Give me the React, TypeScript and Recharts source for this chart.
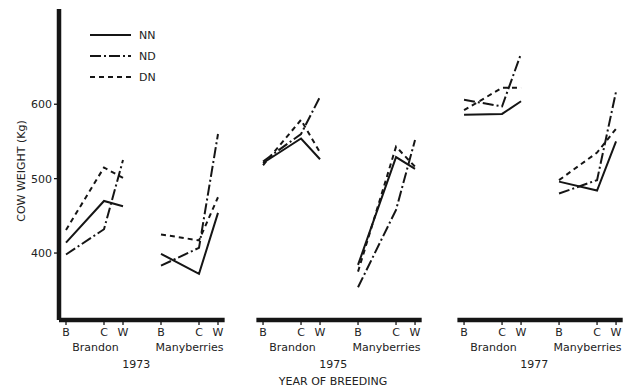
import React from "react";
import { LineChart, Line, XAxis, YAxis, ReferenceLine, Legend } from "recharts";

const YEARS = ["1973", "1975", "1977"];
const SITES = ["Brandon", "Manyberries"];
const STATIONS = ["B", "C", "W"];

// cow weight (kg): one row per year/site group, values in B, C, W order
const NN = [
    [414, 470, 463], [399, 372, 454],
    [521, 554, 526], [384, 529, 513],
    [586, 587, 604], [496, 484, 550],
];
const ND = [
    [398, 432, 525], [383, 407, 560],
    [523, 560, 610], [354, 458, 552],
    [606, 597, 668], [480, 498, 617],
];
const DN = [
    [431, 515, 501], [425, 417, 475],
    [518, 579, 535], [375, 543, 516],
    [592, 622, 622], [498, 535, 567],
];

const SERIES = [
    { key: "NN", values: NN, dash: undefined },
    { key: "ND", values: ND, dash: "11 3 2 3" },
    { key: "DN", values: DN, dash: "5 4" },
];

const INK = "#151515";
const FONT = '"DejaVu Sans", sans-serif';

// x positions, in units of roughly 19px
const U = 19;
const STATION_X = [0, 2, 3];
const SITE_X = [0, 5];
const YEAR_X = [0, 10.37, 20.95];
const X_DOMAIN = [(59 - 66) / U, (625 - 66) / U];
const Y_DOMAIN = [310, 728];

const rows: any[] = [];
YEARS.forEach((_, p) => {
    SITES.forEach((_, s) => {
        const g = p * 2 + s;
        STATIONS.forEach((_, i) => {
            const row: any = { x: YEAR_X[p] + SITE_X[s] + STATION_X[i] };
            SERIES.forEach((se) => (row[se.key] = se.values[g][i]));
            rows.push(row);
        });
        // break the line between groups
        const gap: any = { x: YEAR_X[p] + SITE_X[s] + 3.5 };
        SERIES.forEach((se) => (gap[se.key] = null));
        rows.push(gap);
    });
});

const stationTicks = rows.filter((r) => r.NN !== null).map((r) => r.x);
const siteTicks = YEAR_X.flatMap((p) => [p + 1.55, p + 6.5]);
const yearTicks = YEAR_X.map((p) => p + 3.7);

const axisSegments = YEAR_X.map((p, i) => [
    { x: i === 0 ? X_DOMAIN[0] : p - 0.35, y: Y_DOMAIN[0] },
    { x: p + 8.35, y: Y_DOMAIN[0] },
]);

const tickStyle = { fontSize: 11, fill: "#222", fontFamily: FONT };

function renderLegend() {
    return (
        <svg width={80} height={62}>
            {SERIES.map((se, i) => (
                <g key={se.key}>
                    <line
                        x1={2}
                        x2={43}
                        y1={9 + i * 21}
                        y2={9 + i * 21}
                        stroke={INK}
                        strokeWidth={2}
                        strokeDasharray={se.dash}
                    />
                    <text
                        x={51}
                        y={9 + i * 21}
                        dominantBaseline="central"
                        fontSize={11}
                        fill="#222"
                        fontFamily={FONT}
                    >
                        {se.key}
                    </text>
                </g>
            ))}
        </svg>
    );
}

export default function App() {
    return (
        <div
            style={{
                position: "absolute",
                left: 0,
                top: 0,
                width: 631,
                height: 391,
                background: "#fff",
                fontFamily: FONT,
            }}
        >
            <LineChart
                width={631}
                height={391}
                data={rows}
                margin={{ top: 9, right: 6, left: 0, bottom: 0 }}
            >
                <XAxis
                    xAxisId="a"
                    dataKey="x"
                    type="number"
                    domain={X_DOMAIN}
                    allowDataOverflow
                    ticks={stationTicks}
                    interval={0}
                    tickFormatter={(_v: number, i: number) => STATIONS[i % 3]}
                    axisLine={false}
                    tickLine={{ stroke: INK, strokeWidth: 1.3 }}
                    tickSize={5}
                    tickMargin={3}
                    height={14}
                    tick={tickStyle}
                />
                <XAxis
                    xAxisId="b"
                    dataKey="x"
                    type="number"
                    domain={X_DOMAIN}
                    allowDataOverflow
                    ticks={siteTicks}
                    interval={0}
                    tickFormatter={(_v: number, i: number) => SITES[i % 2]}
                    axisLine={false}
                    tickLine={false}
                    tickSize={0}
                    tickMargin={9}
                    height={17}
                    tick={tickStyle}
                />
                <XAxis
                    xAxisId="c"
                    dataKey="x"
                    type="number"
                    domain={X_DOMAIN}
                    allowDataOverflow
                    ticks={yearTicks}
                    interval={0}
                    tickFormatter={(_v: number, i: number) => YEARS[i]}
                    axisLine={false}
                    tickLine={false}
                    tickSize={0}
                    tickMargin={9}
                    height={40}
                    tick={tickStyle}
                    label={{
                        value: "YEAR OF BREEDING",
                        position: "insideBottom",
                        offset: 6,
                        dx: -9,
                        fontSize: 11,
                        fill: "#222",
                    }}
                />
                <YAxis
                    type="number"
                    domain={Y_DOMAIN}
                    allowDataOverflow
                    ticks={[400, 500, 600]}
                    width={59}
                    axisLine={{ stroke: INK, strokeWidth: 4.5 }}
                    tickLine={{ stroke: INK, strokeWidth: 1.3 }}
                    tickSize={5}
                    tickMargin={2}
                    tick={tickStyle}
                    label={{
                        content: () => (
                            <text
                                x={21}
                                y={171}
                                transform="rotate(-90, 21, 171)"
                                textAnchor="middle"
                                dominantBaseline="central"
                                fontSize={11}
                                fill="#222"
                                fontFamily={FONT}
                            >
                                COW WEIGHT (Kg)
                            </text>
                        ),
                    }}
                />
                {axisSegments.map((seg, i) => (
                    <ReferenceLine
                        key={`axis-${i}`}
                        xAxisId="a"
                        segment={seg}
                        stroke={INK}
                        strokeWidth={4.5}
                        ifOverflow="visible"
                    />
                ))}
                {SERIES.map((se) => (
                    <Line
                        key={se.key}
                        xAxisId="a"
                        dataKey={se.key}
                        type="linear"
                        stroke={INK}
                        strokeWidth={2}
                        strokeDasharray={se.dash}
                        dot={false}
                        isAnimationActive={false}
                    />
                ))}
                <Legend
                    layout="vertical"
                    align="center"
                    verticalAlign="middle"
                    wrapperStyle={{ left: 88, top: 26, width: 80 }}
                    content={renderLegend}
                />
            </LineChart>
        </div>
    );
}
